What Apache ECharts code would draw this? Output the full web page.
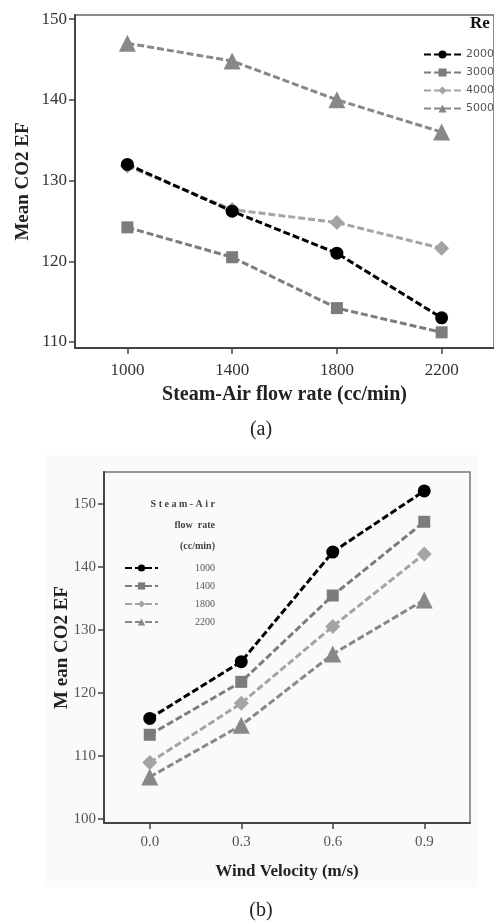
<!DOCTYPE html>
<html lang="en" style="height: 100%">
<head>
    <meta charset="utf-8">
</head>
<body style="height: 100%; margin: 0; background: #fff">
    <div id="container" style="height: 100%"></div>
    <script type="text/javascript" src="https://cdn.jsdelivr.net/npm/echarts@6/dist/echarts.min.js"></script>
    <script type="text/javascript">
        // (a) mean CO2 EF vs steam-air flow rate, one line per Re
        var flowRates = [1000, 1400, 1800, 2200];
        var reNames = ['2000', '3000', '4000', '5000'];
        var re2000 = [132.0, 126.2, 121.0, 113.0];
        var re3000 = [124.2, 120.5, 114.2, 111.2];
        var re4000 = [131.8, 126.4, 124.8, 121.6];
        var re5000 = [147.0, 144.8, 140.0, 136.0];

        // (b) mean CO2 EF vs wind velocity, one line per flow rate
        var windSpeeds = [0.0, 0.3, 0.6, 0.9];
        var flowNames = ['1000', '1400', '1800', '2200'];
        var flow1000 = [116.0, 125.0, 142.4, 152.1];
        var flow1400 = [113.4, 121.8, 135.5, 147.2];
        var flow1800 = [109.0, 118.4, 130.6, 142.1];
        var flow2200 = [106.7, 114.9, 126.2, 134.8];

        var yTicksA = [110, 120, 130, 140, 150];
        var yTicksB = [100, 110, 120, 130, 140, 150];

        var dom = document.getElementById('container');
        var myChart = echarts.init(dom, null, { renderer: 'canvas' });

        var serif = '"Liberation Serif", "DejaVu Serif", serif';
        var colors = ['#000000', '#7c7c7c', '#a4a4a4', '#888888'];
        var symbols = ['circle', 'rect', 'diamond', 'triangle'];
        var sizes = [13, 12, 15, 17];

        function pairs(xs, ys) {
            return xs.map(function (x, i) { return [x, ys[i]]; });
        }

        function makeSeries(names, xs, lists, idx) {
            return lists.map(function (ys, i) {
                return {
                    name: names[i],
                    type: 'line',
                    xAxisIndex: idx,
                    yAxisIndex: idx,
                    data: pairs(xs, ys),
                    symbol: symbols[i],
                    symbolSize: sizes[i],
                    itemStyle: { color: colors[i] },
                    lineStyle: { color: colors[i], width: 3, type: [7, 3] },
                    animation: false,
                    z: 10 - i
                };
            });
        }

        function axisBase() {
            return {
                axisLine: { show: true, onZero: false, lineStyle: { color: '#444', width: 2 } },
                axisTick: { show: true, inside: false, length: 6, lineStyle: { color: '#444', width: 1.5 } },
                splitLine: { show: false },
                nameLocation: 'middle',
                nameMoveOverlap: false,
                nameTextStyle: { fontFamily: serif, fontWeight: 'bold', fontSize: 19, color: '#222' },
                axisLabel: { fontFamily: serif, fontSize: 17, color: '#333', formatter: function (v) { return String(v); } }
            };
        }

        var xA = axisBase();
        Object.assign(xA, {
            type: 'value', gridIndex: 0, min: 800, max: 2400,
            name: 'Steam-Air flow rate (cc/min)', nameGap: 37
        });
        xA.axisTick.customValues = flowRates;
        xA.axisLabel.customValues = flowRates;
        xA.axisLabel.margin = 14;
        xA.nameTextStyle.fontSize = 20;

        var yA = axisBase();
        Object.assign(yA, {
            type: 'value', gridIndex: 0, min: 109.26, max: 150.5,
            name: 'Mean CO2 EF', nameGap: 42
        });
        yA.axisTick.customValues = yTicksA;
        yA.axisLabel.customValues = yTicksA;

        var xB = axisBase();
        Object.assign(xB, {
            type: 'value', gridIndex: 1, min: -0.15, max: 1.05,
            name: 'Wind Velocity (m/s)', nameGap: 40
        });
        xB.axisTick.customValues = windSpeeds;
        xB.axisLabel.customValues = windSpeeds;
        xB.axisLabel.formatter = function (v) { return v.toFixed(1); };
        xB.axisLabel.fontSize = 15;
        xB.axisLabel.color = '#555';
        xB.axisLabel.margin = 12;
        xB.nameTextStyle.fontSize = 17;

        var yB = axisBase();
        Object.assign(yB, {
            type: 'value', gridIndex: 1, min: 99.4, max: 155.1,
            name: 'M ean CO2 EF', nameGap: 32
        });
        yB.axisTick.customValues = yTicksB;
        yB.axisLabel.customValues = yTicksB;
        yB.axisLabel.fontSize = 15;
        yB.axisLabel.color = '#555';
        yB.nameTextStyle.fontSize = 19;

        var option = {
            animation: false,
            backgroundColor: '#ffffff',
            grid: [
                { left: 75, top: 15, right: -10, height: 333, show: true, borderColor: '#666', borderWidth: 1.5 },
                { left: 104, top: 472, right: 24, height: 351, show: true, borderColor: '#777', borderWidth: 1.5 }
            ],
            xAxis: [xA, xB],
            yAxis: [yA, yB],
            legend: [
                {
                    data: reNames,
                    orient: 'vertical',
                    left: 418, top: 44,
                    itemWidth: 37, itemHeight: 10, itemGap: 7,
                    textStyle: { fontFamily: '"DejaVu Sans", sans-serif', fontSize: 11, color: '#555' },
                    selectedMode: false
                },
                {
                    data: flowNames,
                    orient: 'vertical',
                    left: 119, top: 558,
                    itemWidth: 33, itemHeight: 9, itemGap: 8,
                    textStyle: { fontFamily: serif, fontSize: 10, color: '#555', padding: [0, 0, 0, 32] },
                    selectedMode: false
                }
            ],
            graphic: [
                { type: 'rect', z: -10, silent: true, shape: { x: 45, y: 455, width: 432, height: 432 }, style: { fill: '#fafafa' } },
                { type: 'text', x: 470, y: 24, style: { text: 'Re', font: 'bold 17px ' + serif, fill: '#111', textVerticalAlign: 'middle' } },
                { type: 'text', x: 215, y: 504, style: { text: 'S t e a m - A i r', font: 'bold 10px ' + serif, fill: '#444', textAlign: 'right', textVerticalAlign: 'middle' } },
                { type: 'text', x: 215, y: 525, style: { text: 'flow  rate', font: 'bold 10px ' + serif, fill: '#444', textAlign: 'right', textVerticalAlign: 'middle' } },
                { type: 'text', x: 215, y: 546, style: { text: '(cc/min)', font: 'bold 10px ' + serif, fill: '#444', textAlign: 'right', textVerticalAlign: 'middle' } },
                { type: 'text', x: 261, y: 430, style: { text: '(a)', font: '20px ' + serif, fill: '#222', textAlign: 'center', textVerticalAlign: 'middle' } },
                { type: 'text', x: 261, y: 911, style: { text: '(b)', font: '20px ' + serif, fill: '#222', textAlign: 'center', textVerticalAlign: 'middle' } }
            ],
            series: makeSeries(reNames, flowRates, [re2000, re3000, re4000, re5000], 0)
                .concat(makeSeries(flowNames, windSpeeds, [flow1000, flow1400, flow1800, flow2200], 1))
        };

        myChart.setOption(option);
        window.addEventListener('resize', myChart.resize);
    </script>
</body>
</html>
